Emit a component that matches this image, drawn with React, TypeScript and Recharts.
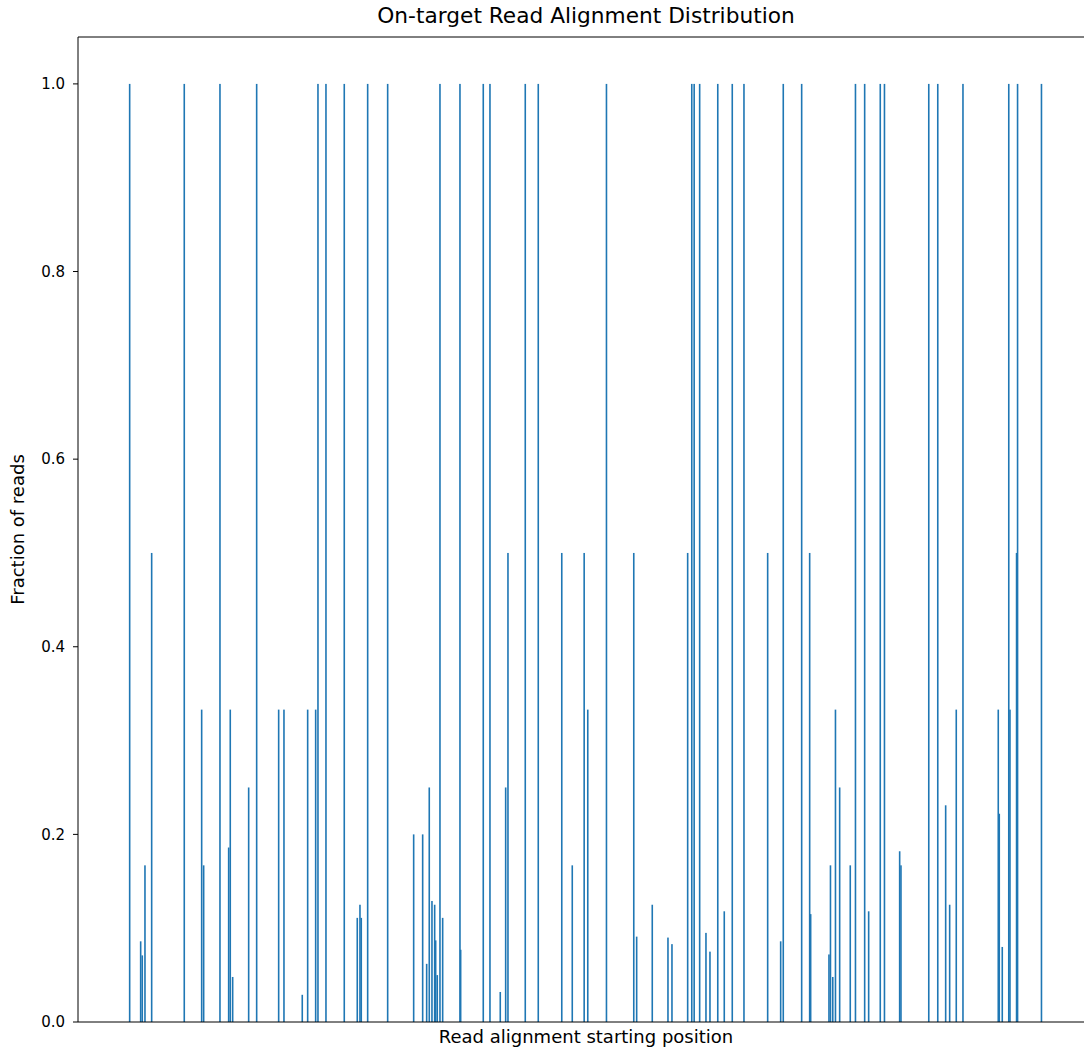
import { BarChart, Bar, XAxis, YAxis, ReferenceLine } from "recharts";

// read alignment start positions (arbitrary position units, left of plot = 0)
const fullHeightStarts = [
  51.7, 106.3, 142, 178.7, 240, 248, 266.3, 289.7, 309.7, 362, 382, 405.3,
  412, 447.3, 460.3, 528.5, 613.8, 616.2, 621.7, 639.8, 654.3, 666, 705.3,
  723.7, 777.5, 786.7, 802.3, 806.5, 850.8, 859.8, 885, 930.8, 939.6, 963.5,
];

const halfStarts = [73.7, 430, 483.8, 506.2, 555.8, 609.7, 689.7, 731.7, 938.6];

const partialStarts = [
  62.7, 64.3, 67, 123.7, 125.7, 150.7, 152.3, 154.7, 170.7, 200.7, 206, 224.3,
  229.7, 237.7, 279.3, 282, 283.3, 335.7, 344.7, 348.7, 351.3, 354, 356.7,
  357.7, 359.3, 364.7, 382.7, 422.3, 427.7, 494.3, 509.8, 558.7, 574.3, 590,
  594, 628, 632, 646.3, 702.7, 732.7, 751, 752.5, 754.8, 757.5, 761.7, 772.3,
  790.7, 821.7, 823, 867.7, 871.7, 878.3, 920.3, 921.3, 924.3, 932,
];

const partialFractions = [
  0.086, 0.071, 0.167, 0.333, 0.167, 0.186, 0.333, 0.048, 0.25, 0.333, 0.333,
  0.029, 0.333, 0.333, 0.111, 0.125, 0.111, 0.2, 0.2, 0.062, 0.25, 0.129,
  0.125, 0.087, 0.05, 0.111, 0.077, 0.032, 0.25, 0.167, 0.333, 0.091, 0.125,
  0.09, 0.083, 0.095, 0.075, 0.118, 0.086, 0.115, 0.072, 0.167, 0.048, 0.333,
  0.25, 0.167, 0.118, 0.182, 0.167, 0.231, 0.125, 0.333, 0.333, 0.222, 0.08,
  0.333,
];

const yTicks = [0, 0.2, 0.4, 0.6, 0.8, 1.0];

const data = [
  ...fullHeightStarts.map((pos) => ({ pos, fraction: 1 })),
  ...halfStarts.map((pos) => ({ pos, fraction: 0.5 })),
  ...partialStarts.map((pos, i) => ({ pos, fraction: partialFractions[i] })),
].sort((a, b) => a.pos - b.pos);

const FONT = "'DejaVu Sans', sans-serif";

const ThinBar = (props: any) => {
  const { x, y, width, height } = props;
  if (height == null || height <= 0) return null;
  const cx = x + width / 2;
  return <rect x={cx - 0.8} y={y} width={1.6} height={height} fill="#1f77b4" />;
};

export default function App() {
  return (
    <div
      style={{
        position: "absolute",
        left: 0,
        top: 0,
        width: 1084,
        height: 1050,
        overflow: "hidden",
        background: "#fff",
        fontFamily: FONT,
      }}
    >
      <div
        style={{
          position: "absolute",
          left: 78,
          width: 1016,
          top: 3,
          textAlign: "center",
          fontSize: 21.7,
          color: "#000",
        }}
      >
        On-target Read Alignment Distribution
      </div>
      <BarChart
        width={1094}
        height={1050}
        data={data}
        margin={{ top: 37, right: 0, bottom: 0, left: 0 }}
      >
        <XAxis
          dataKey="pos"
          type="number"
          domain={[0, 1016]}
          allowDataOverflow
          tick={false}
          tickLine={false}
          height={28}
          axisLine={{ stroke: "#000", strokeWidth: 1 }}
          label={{
            value: "Read alignment starting position",
            position: "insideBottom",
            offset: 7,
            style: { fontFamily: FONT, fontSize: 18, fill: "#000" },
          }}
        />
        <YAxis
          type="number"
          domain={[0, 1.05]}
          ticks={yTicks}
          width={78}
          tickSize={5}
          tickMargin={8}
          tickFormatter={(v: number) => v.toFixed(1)}
          tick={{ fontFamily: FONT, fontSize: 15, fill: "#000" }}
          tickLine={{ stroke: "#000" }}
          axisLine={{ stroke: "#000", strokeWidth: 1 }}
          label={{
            value: "Fraction of reads",
            angle: -90,
            position: "insideLeft",
            offset: 18,
            style: { fontFamily: FONT, fontSize: 18, fill: "#000", textAnchor: "middle" },
          }}
        />
        <ReferenceLine y={1.05} stroke="#000" strokeWidth={1} />
        <Bar
          dataKey="fraction"
          barSize={2}
          fill="#1f77b4"
          shape={ThinBar}
          isAnimationActive={false}
        />
      </BarChart>
    </div>
  );
}
